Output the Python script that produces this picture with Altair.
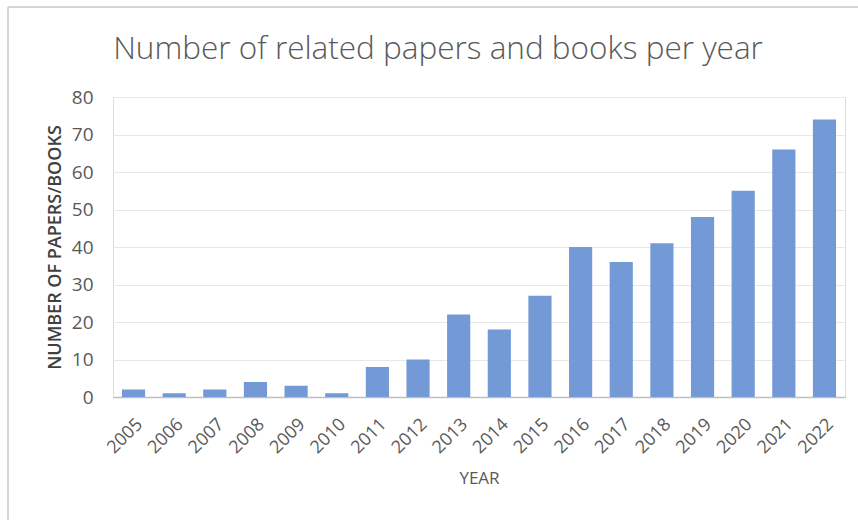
import altair as alt
import pandas as pd

years = ["2005", "2006", "2007", "2008", "2009", "2010", "2011", "2012", "2013",
         "2014", "2015", "2016", "2017", "2018", "2019", "2020", "2021", "2022"]
counts = [2, 1, 2, 4, 3, 1, 8, 10, 22, 18, 27, 40, 36, 41, 48, 55, 66, 74]

df = pd.DataFrame({"year": years, "count": counts})

FONT = "Open Sans"
TXT = "#595959"

bars = alt.Chart(df).mark_bar(color="#7399d6").encode(
    x=alt.X("year:N", sort=years, title="YEAR",
            scale=alt.Scale(paddingInner=0.43, paddingOuter=0.22),
            axis=alt.Axis(labelAngle=-45, labelFontSize=18, labelColor=TXT,
                          labelFont=FONT, labelPadding=18, ticks=False,
                          labelAlign="right", labelBaseline="top",
                          domainColor="#bfbfbf", domainWidth=1.5,
                          titleFont=FONT, titleFontSize=17, titleColor=TXT,
                          titleFontWeight="normal", titlePadding=14)),
    y=alt.Y("count:Q", title="NUMBER OF PAPERS/BOOKS",
            scale=alt.Scale(domain=[0, 80]),
            axis=alt.Axis(values=[0, 10, 20, 30, 40, 50, 60, 70, 80],
                          labelFontSize=19, labelColor=TXT, labelFont=FONT,
                          labelPadding=20, ticks=False, domain=False,
                          gridColor="#e8e8e8", gridWidth=1,
                          titleFont=FONT, titleFontSize=18, titleColor="#404040",
                          titleFontWeight=600, titlePadding=7)),
)

# light frame around the chart (left and top edges, as in the reference)
frame_left = alt.Chart(df).mark_rule(color="#d6d6d6", strokeWidth=2).encode(
    x=alt.value(-105), y=alt.value(-90), y2=alt.value(423))
frame_top = alt.Chart(df).mark_rule(color="#d6d6d6", strokeWidth=2).encode(
    x=alt.value(-105), x2=alt.value(745), y=alt.value(-90))

chart = alt.layer(bars, frame_left, frame_top).properties(
    width=732,
    height=300,
    title=alt.TitleParams("Number of related papers and books per year",
                          font=FONT, fontSize=31.5, fontWeight=300, color=TXT,
                          anchor="middle", frame="group", offset=0,
                          dx=-41, dy=59),
    padding={"left": 113, "top": 97, "right": 13, "bottom": 123},
    autosize=alt.AutoSizeParams(type="none"),
).configure_view(stroke=None).configure(background="white")

chart.save("out.html", embed_options={"renderer": "svg", "actions": False})
